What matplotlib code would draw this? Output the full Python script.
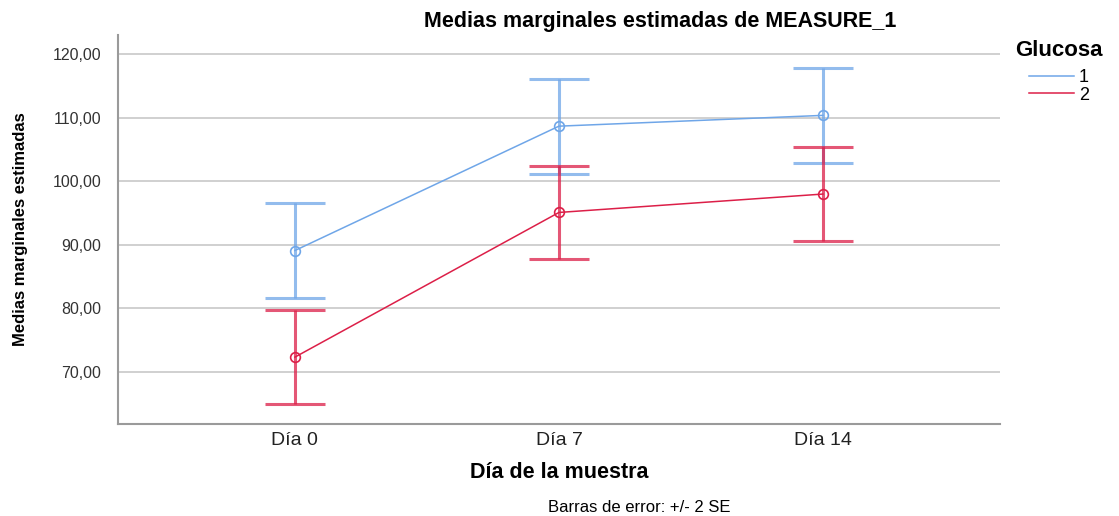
import matplotlib.pyplot as plt
from matplotlib.ticker import FuncFormatter

plt.rcParams["font.family"] = ["Liberation Sans", "DejaVu Sans"]

# Data
dias = ["Día 0", "Día 7", "Día 14"]
glucosa_1 = [89.1, 108.7, 110.4]
glucosa_1_err = [7.5, 7.5, 7.5]
glucosa_2 = [72.3, 95.1, 98.0]
glucosa_2_err = [7.4, 7.4, 7.4]

blue = "#6FA6E8"
red = "#DC1F48"

fig = plt.figure(figsize=(11.19, 5.16), dpi=100)
ax = fig.add_axes([0.1055, 0.1783, 0.788, 0.7539])

x = list(range(len(dias)))
for vals, errs, col, lab in [(glucosa_1, glucosa_1_err, blue, "1"),
                             (glucosa_2, glucosa_2_err, red, "2")]:
    ax.errorbar(x, vals, yerr=errs, fmt="none", ecolor=col, elinewidth=2.2,
                capsize=21.6, capthick=2.2, alpha=0.75, zorder=3)
    ax.plot(x, vals, color=col, lw=1.1, marker="o", markersize=7,
            markerfacecolor="none", markeredgewidth=1.2, label=lab, zorder=4)

ax.set_xlim(-0.67, 2.67)
ax.set_ylim(61.76, 123.07)
ax.set_xticks(x)
ax.set_xticklabels(dias, fontsize=14, color="#222222")
ax.set_yticks([70, 80, 90, 100, 110, 120])
ax.yaxis.set_major_formatter(FuncFormatter(lambda v, p: f"{v:.2f}".replace(".", ",")))
ax.tick_params(axis="y", labelsize=11.5, colors="#333333", length=0, pad=12)
ax.tick_params(axis="x", length=0, pad=6)

ax.grid(axis="y", color="#c8c8c8", lw=1.2, zorder=0)
ax.set_axisbelow(True)
for s in ["top", "right"]:
    ax.spines[s].set_visible(False)
for s in ["left", "bottom"]:
    ax.spines[s].set_color("#9a9a9a")
    ax.spines[s].set_linewidth(1.5)

fig.text(0.59, 0.958, "Medias marginales estimadas de MEASURE_1", fontsize=15.5,
         fontweight="bold", ha="center", va="center")
fig.text(0.50, 0.085, "Día de la muestra", fontsize=15.5, fontweight="bold",
         ha="center", va="center")
fig.text(0.018, 0.555, "Medias marginales estimadas", rotation=90,
         fontsize=12, fontweight="bold", ha="center", va="center")
fig.text(0.49, 0.008, "Barras de error: +/- 2 SE", fontsize=12, ha="left")

leg = ax.legend(title="Glucosa", loc="upper left", bbox_to_anchor=(1.005, 1.015),
                frameon=False, fontsize=13, title_fontsize=16, handlelength=2.5,
                handletextpad=0.3, labelspacing=0.02, borderaxespad=0.2)
leg.get_title().set_fontweight("bold")
leg._legend_box.sep = 6
for h in leg.get_lines():
    h.set_marker("")

fig.savefig("out.png", dpi=100)
